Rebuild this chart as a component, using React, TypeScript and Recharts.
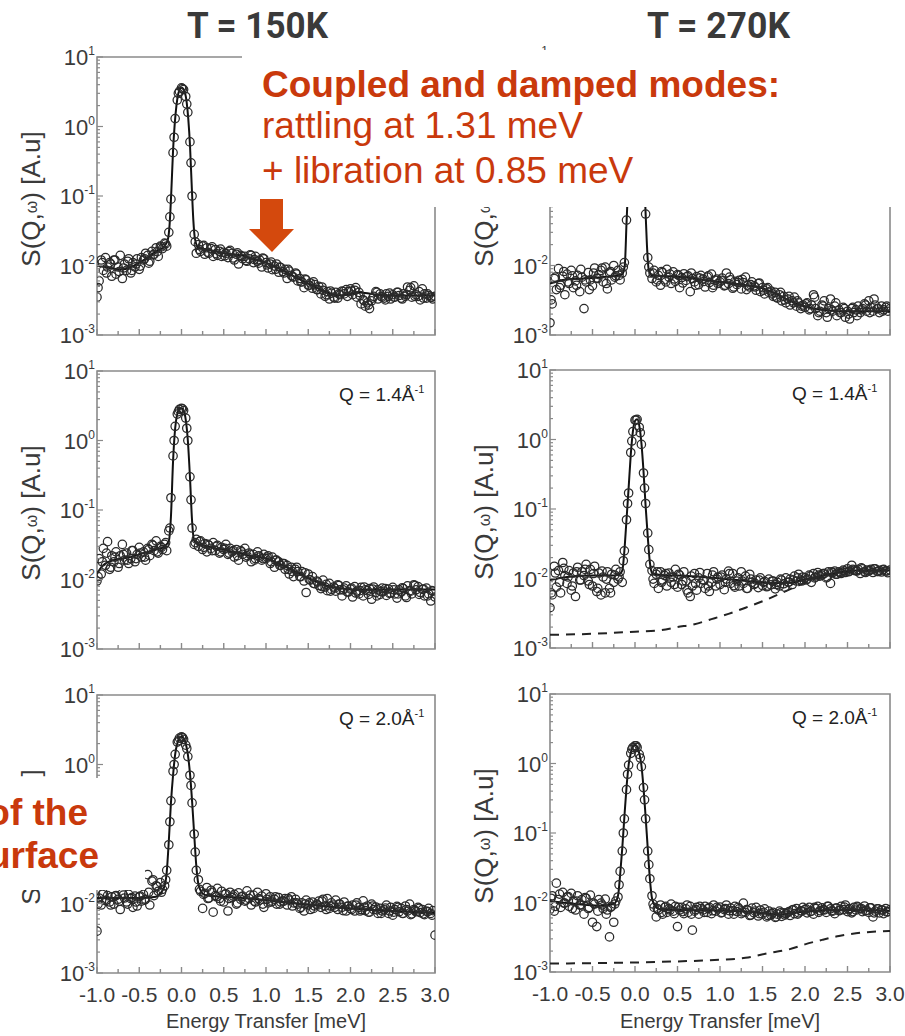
import React from "react";
import { ComposedChart, Scatter, Line, XAxis, YAxis, ReferenceArea } from "recharts";

const FONT = "'Liberation Sans', Arial, Helvetica, sans-serif";
const FRAME = "#8a8a8a";
const INK = "#3a3a3a";
const RED = "#c9390c";
const ARROW = "#d4490d";

// energy grid of the first detector group (meV)
const ENERGY = [
  -1, -0.975, -0.95, -0.925, -0.9, -0.875, -0.85, -0.825,
  -0.8, -0.775, -0.75, -0.725, -0.7, -0.675, -0.65, -0.625,
  -0.6, -0.575, -0.55, -0.525, -0.5, -0.475, -0.45, -0.425,
  -0.4, -0.375, -0.35, -0.325, -0.3, -0.275, -0.25, -0.225,
  -0.2, -0.175, -0.15, -0.125, -0.1, -0.075, -0.05, -0.025,
  0, 0.025, 0.05, 0.075, 0.1, 0.125, 0.15, 0.175,
  0.2, 0.225, 0.25, 0.275, 0.3, 0.325, 0.35, 0.375,
  0.4, 0.425, 0.45, 0.475, 0.5, 0.525, 0.55, 0.575,
  0.6, 0.625, 0.65, 0.675, 0.7, 0.725, 0.75, 0.775,
  0.8, 0.825, 0.85, 0.875, 0.9, 0.925, 0.95, 0.975,
  1, 1.025, 1.05, 1.075, 1.1, 1.125, 1.15, 1.175,
  1.2, 1.225, 1.25, 1.275, 1.3, 1.325, 1.35, 1.375,
  1.4, 1.425, 1.45, 1.475, 1.5, 1.525, 1.55, 1.575,
  1.6, 1.625, 1.65, 1.675, 1.7, 1.725, 1.75, 1.775,
  1.8, 1.825, 1.85, 1.875, 1.9, 1.925, 1.95, 1.975,
  2, 2.025, 2.05, 2.075, 2.1, 2.125, 2.15, 2.175,
  2.2, 2.225, 2.25, 2.275, 2.3, 2.325, 2.35, 2.375,
  2.4, 2.425, 2.45, 2.475, 2.5, 2.525, 2.55, 2.575,
  2.6, 2.625, 2.65, 2.675, 2.7, 2.725, 2.75, 2.775,
  2.8, 2.825, 2.85, 2.875, 2.9, 2.925, 2.95, 2.975,
  3,
];

// energy grid of the second detector group (meV)
const ENERGY_B = [
  -0.9875, -0.9375, -0.8875, -0.8375, -0.7875, -0.7375, -0.6875, -0.6375, -0.5875, -0.5375,
  -0.4875, -0.4375, -0.3875, -0.3375, -0.2875, -0.2375, -0.1875, -0.1375, -0.0875, -0.0375,
  0.0125, 0.0625, 0.1125, 0.1625, 0.2125, 0.2625, 0.3125, 0.3625, 0.4125, 0.4625,
  0.5125, 0.5625, 0.6125, 0.6625, 0.7125, 0.7625, 0.8125, 0.8625, 0.9125, 0.9625,
  1.0125, 1.0625, 1.1125, 1.1625, 1.2125, 1.2625, 1.3125, 1.3625, 1.4125, 1.4625,
  1.5125, 1.5625, 1.6125, 1.6625, 1.7125, 1.7625, 1.8125, 1.8625, 1.9125, 1.9625,
  2.0125, 2.0625, 2.1125, 2.1625, 2.2125, 2.2625, 2.3125, 2.3625, 2.4125, 2.4625,
  2.5125, 2.5625, 2.6125, 2.6625, 2.7125, 2.7625, 2.8125, 2.8625, 2.9125, 2.9625,
];

const X_TICKS = [-1, -0.75, -0.5, -0.25, 0, 0.25, 0.5, 0.75, 1, 1.25, 1.5, 1.75, 2, 2.25, 2.5, 2.75, 3];
const Y_TICKS = [
  0.001, 0.002, 0.003, 0.004, 0.005, 0.006, 0.007, 0.008, 0.009,
  0.01, 0.02, 0.03, 0.04, 0.05, 0.06, 0.07, 0.08, 0.09,
  0.1, 0.2, 0.3, 0.4, 0.5, 0.6, 0.7, 0.8, 0.9,
  1, 2, 3, 4, 5, 6, 7, 8, 9, 10,
];

// ---- T = 150K, top row ----
const S150_TOP = [
  0.0035, 0.006, 0.012, 0.0085, 0.013, 0.0095, 0.011, 0.007,
  0.012, 0.0075, 0.0095, 0.014, 0.0065, 0.0105, 0.0085, 0.0125,
  0.0078, 0.011, 0.0095, 0.0125, 0.0088, 0.013, 0.012, 0.015,
  0.014, 0.0115, 0.016, 0.0145, 0.018, 0.0135, 0.019, 0.0175,
  0.021, 0.019, 0.03, 0.09, 0.42, 1.3, 2.4, 3.2,
  3.6, 3.4, 2.7, 1.6, 0.6, 0.1, 0.028, 0.015,
  0.02, 0.016, 0.019, 0.0145, 0.018, 0.015, 0.0175, 0.0135,
  0.017, 0.014, 0.016, 0.0135, 0.0155, 0.015, 0.013, 0.0165,
  0.015, 0.012, 0.0145, 0.0105, 0.014, 0.0125, 0.0135, 0.0115,
  0.0125, 0.014, 0.011, 0.0135, 0.0115, 0.012, 0.0095, 0.0125,
  0.011, 0.0092, 0.0105, 0.0087, 0.0098, 0.0105, 0.008, 0.0093,
  0.0082, 0.0088, 0.0065, 0.0083, 0.0072, 0.0068, 0.0078, 0.006,
  0.0065, 0.0058, 0.0048, 0.0062, 0.0052, 0.0056, 0.0047, 0.0053,
  0.0045, 0.005, 0.0039, 0.0044, 0.0036, 0.0042, 0.0033, 0.004,
  0.0035, 0.0041, 0.0034, 0.0038, 0.0043, 0.0039, 0.0045, 0.0042,
  0.0046, 0.0038, 0.0044, 0.0035, 0.0041, 0.0028, 0.0032, 0.0026,
  0.0029, 0.0024, 0.0031, 0.0036, 0.0042, 0.0033, 0.0039, 0.0035,
  0.0034, 0.0039, 0.0036, 0.0033, 0.0038, 0.0035, 0.0041, 0.0037,
  0.0034, 0.0039, 0.0036, 0.0049, 0.0044, 0.0035, 0.0051, 0.0038,
  0.0036, 0.0032, 0.0046, 0.0039, 0.0034, 0.0037, 0.0035, 0.0033,
  0.0036,
];
const S150_TOP_B = [
  0.0048, 0.011, 0.0078, 0.0105, 0.012, 0.0082, 0.0092, 0.0115, 0.0085, 0.0105,
  0.0098, 0.0125, 0.0108, 0.0142, 0.0158, 0.0185, 0.0205, 0.05, 0.7, 3.0,
  3.5, 2.1, 0.3, 0.022, 0.017, 0.0195, 0.0155, 0.0185, 0.0148, 0.0172,
  0.0138, 0.0158, 0.0128, 0.0152, 0.0135, 0.0118, 0.0142, 0.0122, 0.0108, 0.0128,
  0.0102, 0.0112, 0.0088, 0.0095, 0.0078, 0.0088, 0.0069, 0.0075, 0.0058, 0.0064,
  0.0052, 0.0058, 0.0045, 0.0049, 0.0038, 0.0043, 0.0034, 0.0039, 0.0042, 0.0036,
  0.0043, 0.0048, 0.0037, 0.0031, 0.0027, 0.0034, 0.0041, 0.0036, 0.0032, 0.004,
  0.0035, 0.0041, 0.0033, 0.0038, 0.0048, 0.0036, 0.0042, 0.0034, 0.0039, 0.0035,
];
const FIT150_TOP_E = [-1, -0.9, -0.8, -0.7, -0.6, -0.5, -0.4, -0.3, -0.2, -0.16, -0.14, -0.12, -0.1, -0.08, -0.06, -0.04, -0.02, 0, 0.02, 0.04, 0.06, 0.08, 0.1, 0.12, 0.14, 0.16, 0.2, 0.3, 0.4, 0.5, 0.6, 0.7, 0.8, 0.9, 1, 1.1, 1.2, 1.3, 1.4, 1.5, 1.6, 1.7, 1.8, 1.9, 2, 2.1, 2.2, 2.3, 2.5, 2.7, 3];
const FIT150_TOP = [0.01, 0.0095, 0.009, 0.0088, 0.0095, 0.011, 0.013, 0.016, 0.019, 0.024, 0.04, 0.12, 0.45, 1.1, 2.0, 2.9, 3.4, 3.6, 3.5, 3.1, 2.3, 1.3, 0.55, 0.15, 0.045, 0.024, 0.018, 0.017, 0.016, 0.015, 0.0145, 0.014, 0.013, 0.012, 0.011, 0.0098, 0.0085, 0.0073, 0.0063, 0.0055, 0.0048, 0.0042, 0.0038, 0.0037, 0.0039, 0.0041, 0.004, 0.0038, 0.0037, 0.0037, 0.0037];

// ---- T = 270K, top row ----
const S270_TOP = [
  0.0015, 0.0028, 0.0065, 0.0045, 0.009, 0.0052, 0.007, 0.0038,
  0.0075, 0.0055, 0.0085, 0.0048, 0.006, 0.0072, 0.0042, 0.0068,
  0.0024, 0.0058, 0.0079, 0.0062, 0.0051, 0.0092, 0.0066, 0.0074,
  0.0085, 0.0058, 0.0095, 0.0046, 0.0078, 0.0062, 0.01, 0.0071,
  0.0085, 0.0062, 0.0078, 0.011, 0.045, 0.25, 0.9, 1.6,
  2.0, 2.0, 1.6, 0.9, 0.28, 0.055, 0.013, 0.0078,
  0.0065, 0.0085, 0.0058, 0.0072, 0.0052, 0.0079, 0.0062, 0.0088,
  0.0068, 0.0055, 0.0081, 0.0059, 0.0074, 0.0048, 0.0067, 0.0076,
  0.0061, 0.0071, 0.0042, 0.0065, 0.0058, 0.0069, 0.0053, 0.0072,
  0.0064, 0.0049, 0.0068, 0.0057, 0.0075, 0.0052, 0.0061, 0.0055,
  0.0058, 0.0066, 0.0051, 0.0078, 0.0055, 0.0062, 0.0047, 0.0059,
  0.0053, 0.0061, 0.0046, 0.0057, 0.0068, 0.0052, 0.0049, 0.0058,
  0.0051, 0.0044, 0.0055, 0.0042, 0.0048, 0.0039, 0.0046, 0.0041,
  0.0043, 0.0036, 0.0041, 0.0034, 0.0038, 0.0031, 0.0036, 0.0029,
  0.0033, 0.0027, 0.0031, 0.0035, 0.0026, 0.0029, 0.0024, 0.0027,
  0.0025, 0.0029, 0.0023, 0.0027, 0.0038, 0.0024, 0.0019, 0.0022,
  0.0027, 0.0031, 0.0021, 0.0024, 0.0033, 0.0022, 0.0026, 0.0019,
  0.0023, 0.0021, 0.0025, 0.0018, 0.0022, 0.0017, 0.0024, 0.0021,
  0.0023, 0.0026, 0.0021, 0.0024, 0.0028, 0.0022, 0.0031, 0.0025,
  0.0022, 0.0027, 0.0024, 0.0021, 0.0026, 0.0023, 0.0025, 0.0022,
  0.0024,
];
const S270_TOP_B = [
  0.0032, 0.0068, 0.0048, 0.0082, 0.0058, 0.0071, 0.0052, 0.0088, 0.0062, 0.0045,
  0.0078, 0.0065, 0.0092, 0.0055, 0.0082, 0.0068, 0.0072, 0.0095, 0.1, 1.2,
  2.05, 1.2, 0.14, 0.0095, 0.0078, 0.0062, 0.0082, 0.0058, 0.0075, 0.0064,
  0.0072, 0.0056, 0.0069, 0.0078, 0.0052, 0.0066, 0.0059, 0.0071, 0.0048, 0.0064,
  0.0061, 0.0052, 0.0068, 0.0049, 0.0057, 0.0063, 0.0045, 0.0053, 0.0049, 0.0056,
  0.0044, 0.0048, 0.0039, 0.0035, 0.0041, 0.0032, 0.0036, 0.0029, 0.0031, 0.0026,
  0.0028, 0.0024, 0.0035, 0.0021, 0.0026, 0.0018, 0.0023, 0.0029, 0.0021, 0.0024,
  0.002, 0.0025, 0.0019, 0.0023, 0.0027, 0.0021, 0.0033, 0.0024, 0.0022, 0.0026,
];
const FIT270_TOP_E = [-1, -0.9, -0.8, -0.6, -0.4, -0.2, -0.15, -0.12, -0.1, -0.08, -0.05, -0.02, 0, 0.02, 0.05, 0.08, 0.1, 0.12, 0.14, 0.16, 0.2, 0.4, 0.6, 0.8, 1, 1.2, 1.4, 1.5, 1.6, 1.7, 1.8, 1.9, 2, 2.1, 2.2, 2.4, 2.6, 3];
const FIT270_TOP = [0.0055, 0.006, 0.0063, 0.0065, 0.0068, 0.0072, 0.0075, 0.01, 0.04, 0.15, 0.8, 1.7, 2.0, 2.1, 1.7, 0.8, 0.3, 0.08, 0.02, 0.009, 0.0072, 0.007, 0.0067, 0.0062, 0.0058, 0.0054, 0.005, 0.0047, 0.0042, 0.0037, 0.0032, 0.0028, 0.0026, 0.0024, 0.0023, 0.0022, 0.0022, 0.0022];

// ---- T = 150K, Q = 1.4 ----
const S150_Q14 = [
  0.0095, 0.02, 0.012, 0.028, 0.016, 0.035, 0.014, 0.022,
  0.018, 0.025, 0.015, 0.022, 0.032, 0.019, 0.024, 0.017,
  0.02, 0.026, 0.018, 0.023, 0.029, 0.021, 0.025, 0.019,
  0.028, 0.022, 0.032, 0.026, 0.036, 0.024, 0.03, 0.027,
  0.032, 0.026, 0.05, 0.15, 0.6, 1.6, 2.4, 2.8,
  2.9, 2.7, 2.1, 1.0, 0.3, 0.055, 0.032, 0.038,
  0.03, 0.036, 0.027, 0.033, 0.025, 0.031, 0.028, 0.034,
  0.026, 0.031, 0.024, 0.029, 0.027, 0.032, 0.023, 0.028,
  0.025, 0.021, 0.027, 0.019, 0.026, 0.023, 0.028, 0.022,
  0.024, 0.018, 0.023, 0.02, 0.025, 0.021, 0.019, 0.023,
  0.02, 0.022, 0.017, 0.021, 0.015, 0.019, 0.018, 0.016,
  0.017, 0.014, 0.016, 0.012, 0.015, 0.011, 0.014, 0.013,
  0.011, 0.013, 0.0095, 0.0065, 0.012, 0.0098, 0.011, 0.0087,
  0.0095, 0.0082, 0.0074, 0.0098, 0.0078, 0.0069, 0.0088, 0.0072,
  0.0078, 0.0068, 0.0084, 0.0071, 0.0058, 0.0075, 0.0081, 0.0066,
  0.0073, 0.0056, 0.0079, 0.0068, 0.0062, 0.0077, 0.0058, 0.0071,
  0.0069, 0.0074, 0.0052, 0.0078, 0.0065, 0.0071, 0.0061, 0.0075,
  0.0068, 0.0059, 0.0073, 0.0064, 0.0077, 0.0062, 0.0054, 0.0071,
  0.0066, 0.0074, 0.0058, 0.0081, 0.0069, 0.0062, 0.0084, 0.0071,
  0.0079, 0.0065, 0.0072, 0.0058, 0.0075, 0.0062, 0.0049, 0.0068,
  0.0056,
];
const S150_Q14_B = [
  0.011, 0.018, 0.024, 0.015, 0.021, 0.017, 0.023, 0.019, 0.026, 0.02,
  0.024, 0.021, 0.027, 0.031, 0.025, 0.029, 0.034, 0.055, 1.0, 2.6,
  2.85, 1.5, 0.14, 0.034, 0.035, 0.029, 0.032, 0.026, 0.03, 0.025,
  0.028, 0.024, 0.026, 0.022, 0.025, 0.021, 0.023, 0.019, 0.022, 0.02,
  0.021, 0.018, 0.019, 0.016, 0.017, 0.014, 0.013, 0.015, 0.011, 0.0125,
  0.01, 0.0088, 0.0092, 0.0079, 0.0085, 0.0068, 0.0075, 0.0082, 0.0071, 0.0066,
  0.0075, 0.0064, 0.0069, 0.0078, 0.0061, 0.0073, 0.0058, 0.0067, 0.0074, 0.0063,
  0.0071, 0.0062, 0.0076, 0.0055, 0.0068, 0.0082, 0.0061, 0.0073, 0.0058, 0.0069,
];
const FIT150_Q14_E = [-1, -0.95, -0.9, -0.8, -0.7, -0.6, -0.5, -0.4, -0.3, -0.2, -0.15, -0.125, -0.1, -0.075, -0.05, -0.025, 0, 0.025, 0.05, 0.075, 0.1, 0.125, 0.15, 0.2, 0.3, 0.4, 0.5, 0.6, 0.7, 0.8, 0.9, 1, 1.1, 1.2, 1.3, 1.4, 1.5, 1.6, 1.7, 1.8, 1.9, 2, 2.5, 3];
const FIT150_Q14 = [0.012, 0.015, 0.017, 0.019, 0.02, 0.021, 0.023, 0.025, 0.027, 0.03, 0.036, 0.08, 0.5, 1.5, 2.4, 2.8, 2.9, 2.7, 2.0, 1.0, 0.3, 0.07, 0.036, 0.032, 0.03, 0.028, 0.027, 0.025, 0.024, 0.022, 0.021, 0.02, 0.018, 0.016, 0.014, 0.012, 0.0105, 0.0093, 0.0083, 0.0077, 0.0074, 0.0072, 0.0072, 0.0072];

// ---- T = 270K, Q = 1.4 ----
const S270_Q14 = [
  0.0038, 0.0058, 0.015, 0.0075, 0.013, 0.0062, 0.017, 0.011,
  0.0085, 0.013, 0.0068, 0.012, 0.0055, 0.0145, 0.0095, 0.0125,
  0.011, 0.016, 0.0092, 0.0135, 0.0078, 0.015, 0.0065, 0.012,
  0.0058, 0.0105, 0.0062, 0.0125, 0.0072, 0.0115, 0.0088, 0.0135,
  0.0098, 0.0125, 0.0088, 0.025, 0.07, 0.17, 0.65, 1.3,
  1.9, 1.95, 1.5, 0.85, 0.33, 0.12, 0.045, 0.016,
  0.013, 0.0085, 0.0115, 0.0072, 0.0125, 0.0095, 0.011, 0.0078,
  0.012, 0.0088, 0.0105, 0.0135, 0.0075, 0.0112, 0.0082, 0.0125,
  0.0092, 0.0062, 0.0055, 0.0078, 0.0118, 0.0068, 0.0102, 0.0085,
  0.0095, 0.0072, 0.0118, 0.0065, 0.0088, 0.0125, 0.0078, 0.0105,
  0.0082, 0.0112, 0.0069, 0.0098, 0.0128, 0.0085, 0.0118, 0.0075,
  0.0092, 0.0078, 0.0125, 0.0085, 0.0108, 0.0072, 0.0115, 0.0088,
  0.0082, 0.0095, 0.0074, 0.0102, 0.0079, 0.0091, 0.0076, 0.0098,
  0.0081, 0.0092, 0.0071, 0.0088, 0.0078, 0.0095, 0.0084, 0.0102,
  0.0088, 0.0098, 0.0082, 0.0108, 0.0092, 0.0115, 0.0095, 0.0105,
  0.0102, 0.0098, 0.0112, 0.0088, 0.0118, 0.0105, 0.0122, 0.0108,
  0.0112, 0.0118, 0.0102, 0.0125, 0.0085, 0.0121, 0.0128, 0.0115,
  0.0125, 0.0118, 0.0132, 0.0122, 0.0138, 0.0128, 0.0155, 0.0131,
  0.0129, 0.0135, 0.0118, 0.0138, 0.0125, 0.0132, 0.0128, 0.0136,
  0.0122, 0.0138, 0.0126, 0.0131, 0.0124, 0.0135, 0.0128, 0.0121,
  0.0132,
];
const S270_Q14_B = [
  0.0062, 0.012, 0.0088, 0.014, 0.0105, 0.0078, 0.0125, 0.0095, 0.0135, 0.0082,
  0.0118, 0.0072, 0.0128, 0.0098, 0.0062, 0.0112, 0.0105, 0.018, 0.12, 0.95,
  1.9, 1.25, 0.2, 0.026, 0.0098, 0.0125, 0.0088, 0.0118, 0.0105, 0.0082,
  0.0115, 0.0092, 0.0068, 0.0108, 0.0085, 0.0122, 0.0095, 0.0078, 0.0112, 0.0098,
  0.0105, 0.0088, 0.0118, 0.0079, 0.0102, 0.0092, 0.0072, 0.0098, 0.0085, 0.0095,
  0.0088, 0.0078, 0.0092, 0.0082, 0.0098, 0.0075, 0.0089, 0.0095, 0.0102, 0.0092,
  0.0095, 0.0108, 0.0102, 0.0112, 0.0118, 0.0105, 0.0125, 0.0115, 0.0121, 0.0128,
  0.0125, 0.0135, 0.0128, 0.0142, 0.0122, 0.0131, 0.0138, 0.0126, 0.0133, 0.0129,
];
const FIT270_Q14_E = [-1, -0.8, -0.5, -0.3, -0.2, -0.15, -0.125, -0.1, -0.075, -0.05, -0.025, 0, 0.025, 0.05, 0.075, 0.1, 0.125, 0.15, 0.175, 0.2, 0.3, 0.5, 0.8, 1, 1.2, 1.4, 1.6, 1.8, 1.9, 2, 2.2, 2.4, 2.6, 2.8, 3];
const FIT270_Q14 = [0.0095, 0.0105, 0.011, 0.011, 0.0112, 0.013, 0.025, 0.07, 0.2, 0.6, 1.3, 1.85, 1.95, 1.6, 0.9, 0.35, 0.11, 0.04, 0.017, 0.012, 0.0112, 0.011, 0.0105, 0.01, 0.0095, 0.009, 0.0086, 0.0087, 0.009, 0.0097, 0.011, 0.0122, 0.013, 0.013, 0.013];
const MODE270_Q14_E = [-1, -0.5, 0, 0.3, 0.5, 0.7, 0.9, 1.1, 1.3, 1.5, 1.7, 1.9, 2.1, 2.3, 2.6, 3];
const MODE270_Q14 = [0.00155, 0.0016, 0.00172, 0.0018, 0.002, 0.0022, 0.0026, 0.0031, 0.0038, 0.0047, 0.006, 0.0077, 0.0097, 0.0112, 0.0125, 0.0131];

// ---- T = 150K, Q = 2.0 ----
const S150_Q20 = [
  0.004, 0.012, 0.0095, 0.014, 0.011, 0.013, 0.0105, 0.0125,
  0.0098, 0.013, 0.0115, 0.0082, 0.014, 0.012, 0.0105, 0.0135,
  0.0118, 0.0088, 0.0128, 0.0092, 0.0125, 0.0108, 0.0135, 0.0115,
  0.026, 0.0095, 0.021, 0.013, 0.018, 0.015, 0.02, 0.016,
  0.018, 0.03, 0.07, 0.3, 0.8, 1.4, 2.1, 2.4,
  2.5, 2.3, 1.9, 1.3, 0.7, 0.28, 0.1, 0.03,
  0.022, 0.015, 0.0085, 0.014, 0.017, 0.012, 0.0155, 0.0075,
  0.013, 0.0165, 0.0118, 0.015, 0.0105, 0.0138, 0.0078, 0.0145,
  0.0122, 0.0135, 0.0098, 0.0142, 0.0115, 0.0128, 0.0108, 0.0152,
  0.0118, 0.0095, 0.0132, 0.0105, 0.0145, 0.0112, 0.0128, 0.0088,
  0.0138, 0.0102, 0.0125, 0.0108, 0.0115, 0.0098, 0.0122, 0.0105,
  0.0108, 0.0118, 0.0095, 0.0112, 0.0125, 0.0102, 0.0115, 0.0098,
  0.0085, 0.0102, 0.0078, 0.0112, 0.0095, 0.0082, 0.0105, 0.0092,
  0.0098, 0.0108, 0.0088, 0.0115, 0.0092, 0.0118, 0.0085, 0.0102,
  0.0095, 0.0112, 0.0082, 0.0098, 0.0088, 0.0105, 0.0078, 0.0092,
  0.0085, 0.0095, 0.0078, 0.0102, 0.0088, 0.0082, 0.0109, 0.0079,
  0.0092, 0.0075, 0.0098, 0.0082, 0.0089, 0.0072, 0.0085, 0.0078,
  0.0081, 0.0095, 0.0072, 0.0088, 0.0068, 0.0082, 0.0091, 0.0076,
  0.0085, 0.0072, 0.0092, 0.0078, 0.0098, 0.0071, 0.0082, 0.0076,
  0.0088, 0.0074, 0.0082, 0.0069, 0.0078, 0.0085, 0.0072, 0.0079,
  0.0035,
];
const S150_Q20_B = [
  0.0098, 0.0135, 0.0112, 0.0095, 0.0128, 0.0108, 0.0132, 0.0098, 0.0122, 0.0105,
  0.0128, 0.0112, 0.0145, 0.022, 0.0175, 0.0145, 0.022, 0.15, 1.0, 2.2,
  2.45, 1.7, 0.5, 0.055, 0.016, 0.0135, 0.0118, 0.0145, 0.0125, 0.0108,
  0.0135, 0.0118, 0.0128, 0.0102, 0.0125, 0.0112, 0.0132, 0.0108, 0.0118, 0.0098,
  0.0115, 0.0105, 0.0125, 0.0098, 0.0108, 0.0118, 0.0092, 0.0102, 0.0088, 0.0098,
  0.0102, 0.0085, 0.0095, 0.0108, 0.0082, 0.0092, 0.0088, 0.0098, 0.0079, 0.0091,
  0.0082, 0.0095, 0.0078, 0.0088, 0.0075, 0.0092, 0.0081, 0.0072, 0.0086, 0.0078,
  0.0075, 0.0088, 0.0072, 0.0082, 0.0069, 0.0079, 0.0085, 0.0071, 0.0076, 0.0068,
];
const FIT150_Q20_E = [-1, -0.5, -0.3, -0.25, -0.2, -0.175, -0.15, -0.125, -0.1, -0.075, -0.05, -0.025, 0, 0.025, 0.05, 0.075, 0.1, 0.125, 0.15, 0.175, 0.2, 0.25, 0.3, 0.5, 0.8, 1, 1.2, 1.5, 1.8, 2, 2.3, 2.6, 3];
const FIT150_Q20 = [0.012, 0.012, 0.0125, 0.014, 0.018, 0.028, 0.08, 0.28, 0.7, 1.4, 2.0, 2.4, 2.5, 2.4, 2.0, 1.4, 0.75, 0.3, 0.1, 0.035, 0.019, 0.014, 0.013, 0.0125, 0.0118, 0.0112, 0.0105, 0.0096, 0.0089, 0.0085, 0.008, 0.0077, 0.0073];

// ---- T = 270K, Q = 2.0 ----
const S270_Q20 = [
  0.008, 0.0125, 0.0075, 0.019, 0.011, 0.0085, 0.014, 0.0098,
  0.012, 0.0088, 0.0135, 0.0105, 0.0078, 0.0125, 0.0092, 0.011,
  0.0068, 0.0115, 0.0082, 0.0128, 0.0052, 0.0095, 0.0045, 0.011,
  0.0098, 0.0082, 0.0112, 0.0078, 0.0032, 0.0088, 0.0052, 0.0105,
  0.012, 0.028, 0.055, 0.16, 0.42, 0.95, 1.4, 1.7,
  1.8, 1.7, 1.35, 0.9, 0.45, 0.16, 0.055, 0.022,
  0.0125, 0.0085, 0.0062, 0.0078, 0.0092, 0.0068, 0.0085, 0.0072,
  0.0082, 0.0095, 0.0075, 0.0088, 0.0045, 0.0078, 0.0085, 0.0069,
  0.0081, 0.0072, 0.0088, 0.004, 0.0075, 0.0085, 0.0068, 0.0082,
  0.0078, 0.0088, 0.0072, 0.0085, 0.0069, 0.0092, 0.0075, 0.0081,
  0.0086, 0.0072, 0.0079, 0.0092, 0.0068, 0.0083, 0.0076, 0.0088,
  0.0074, 0.0081, 0.0069, 0.0098, 0.0072, 0.0078, 0.0065, 0.0083,
  0.0071, 0.0085, 0.0064, 0.0078, 0.0068, 0.0081, 0.0062, 0.0075,
  0.0066, 0.0072, 0.0061, 0.0068, 0.0075, 0.0063, 0.0071, 0.0069,
  0.0072, 0.0065, 0.0078, 0.0069, 0.0082, 0.0071, 0.0076, 0.0085,
  0.0079, 0.0071, 0.0085, 0.0075, 0.0068, 0.0082, 0.0088, 0.0076,
  0.0084, 0.0078, 0.0072, 0.0088, 0.0081, 0.0075, 0.0069, 0.0083,
  0.0076, 0.0088, 0.0079, 0.0092, 0.0074, 0.0082, 0.0071, 0.0085,
  0.0078, 0.0086, 0.0081, 0.0074, 0.0089, 0.0077, 0.0072, 0.0084,
  0.0062, 0.0075, 0.0081, 0.0071, 0.0078, 0.0069, 0.0082, 0.0074,
  0.0079,
];
const S270_Q20_B = [
  0.0115, 0.0088, 0.0132, 0.0098, 0.0122, 0.0082, 0.0105, 0.0092, 0.0118, 0.0085,
  0.0098, 0.0075, 0.0092, 0.0068, 0.0085, 0.0095, 0.018, 0.1, 0.7, 1.6,
  1.8, 1.2, 0.3, 0.035, 0.0095, 0.0082, 0.0072, 0.0088, 0.0078, 0.0069,
  0.0085, 0.0074, 0.0092, 0.0068, 0.0079, 0.0088, 0.0072, 0.0082, 0.0076, 0.0085,
  0.0071, 0.0082, 0.0076, 0.0068, 0.0085, 0.0073, 0.0079, 0.0066, 0.0075, 0.0069,
  0.0072, 0.0065, 0.0069, 0.0062, 0.0071, 0.0066, 0.0074, 0.0079, 0.0068, 0.0075,
  0.0081, 0.0074, 0.0085, 0.0072, 0.0079, 0.0088, 0.0076, 0.0083, 0.0078, 0.0086,
  0.0079, 0.0074, 0.0088, 0.0082, 0.0076, 0.0084, 0.0071, 0.0081, 0.0078, 0.0073,
];
const FIT270_Q20_E = [-1, -0.8, -0.6, -0.4, -0.25, -0.2, -0.175, -0.15, -0.125, -0.1, -0.075, -0.05, -0.025, 0, 0.025, 0.05, 0.075, 0.1, 0.125, 0.15, 0.175, 0.2, 0.25, 0.3, 0.5, 1, 1.3, 1.5, 1.7, 1.8, 2, 2.2, 2.5, 3];
const FIT270_Q20 = [0.0105, 0.0098, 0.0093, 0.009, 0.0095, 0.0125, 0.025, 0.06, 0.17, 0.45, 0.95, 1.4, 1.75, 1.85, 1.75, 1.4, 0.95, 0.45, 0.17, 0.06, 0.022, 0.0115, 0.0085, 0.008, 0.0078, 0.0077, 0.0074, 0.007, 0.0067, 0.0069, 0.0074, 0.0077, 0.0078, 0.0076];
const MODE270_Q20_E = [-1, -0.5, 0, 0.5, 1, 1.3, 1.6, 1.8, 2, 2.2, 2.4, 2.6, 2.8, 3];
const MODE270_Q20 = [0.00132, 0.00134, 0.00137, 0.00142, 0.0015, 0.0016, 0.0019, 0.0021, 0.0025, 0.0029, 0.0033, 0.0036, 0.0038, 0.0039];

const YW = 90;
const MT = 20;
const MR = 20;
const XH = 60;
const PH = 278;

interface PanelSpec {
  left: number;
  top: number;
  w: number;
  scatter: number[];
  scatterB: number[];
  fitE: number[];
  fit: number[];
  modeE?: number[];
  mode?: number[];
  q?: string;
  xLabels: boolean;
}

const PANELS: PanelSpec[] = [
  { left: 97, top: 57, w: 338, scatter: S150_TOP, scatterB: S150_TOP_B, fitE: FIT150_TOP_E, fit: FIT150_TOP, xLabels: false },
  { left: 550, top: 57, w: 340, scatter: S270_TOP, scatterB: S270_TOP_B, fitE: FIT270_TOP_E, fit: FIT270_TOP, xLabels: false },
  { left: 97, top: 371, w: 338, scatter: S150_Q14, scatterB: S150_Q14_B, fitE: FIT150_Q14_E, fit: FIT150_Q14, q: "1.4", xLabels: false },
  { left: 550, top: 370, w: 340, scatter: S270_Q14, scatterB: S270_Q14_B, fitE: FIT270_Q14_E, fit: FIT270_Q14, modeE: MODE270_Q14_E, mode: MODE270_Q14, q: "1.4", xLabels: false },
  { left: 97, top: 695, w: 338, scatter: S150_Q20, scatterB: S150_Q20_B, fitE: FIT150_Q20_E, fit: FIT150_Q20, q: "2.0", xLabels: true },
  { left: 550, top: 694, w: 340, scatter: S270_Q20, scatterB: S270_Q20_B, fitE: FIT270_Q20_E, fit: FIT270_Q20, modeE: MODE270_Q20_E, mode: MODE270_Q20, q: "2.0", xLabels: true },
];

const pairs = (xs: number[], ys: number[]) => xs.map((e, i) => ({ e, s: ys[i] }));

function YTick(props: any) {
  const { x, y, payload } = props;
  const lg = Math.log10(payload.value);
  const exp = Math.round(lg);
  const major = Math.abs(lg - exp) < 1e-6;
  return (
    <g>
      <line x1={x} x2={x + (major ? 6 : 3)} y1={y} y2={y} stroke={FRAME} strokeWidth={1.2} />
      {major ? (
        <text x={x - 2} y={y + 8} textAnchor="end" fontSize={22} fill={INK} fontFamily={FONT}>
          10
          <tspan dy={-10} fontSize={12}>{exp}</tspan>
        </text>
      ) : null}
    </g>
  );
}

function makeXTick(showLabels: boolean) {
  return function XTick(props: any) {
    const { x, y, payload } = props;
    const v: number = payload.value;
    const major = Math.abs(v * 2 - Math.round(v * 2)) < 1e-6;
    return (
      <g>
        <line x1={x} x2={x} y1={y} y2={y - (major ? 6 : 4)} stroke={FRAME} strokeWidth={1.4} />
        {showLabels && major ? (
          <text x={x} y={y + 29} textAnchor="middle" fontSize={21} fill={INK} fontFamily={FONT}>
            {v.toFixed(1)}
          </text>
        ) : null}
      </g>
    );
  };
}

const circle = (p: any) => (
  <circle cx={p.cx} cy={p.cy} r={4.2} fill="none" stroke="#2a2a2a" strokeWidth={1.25} />
);

function Panel({ spec }: { spec: PanelSpec }) {
  const pts = pairs(ENERGY, spec.scatter);
  const ptsB = pairs(ENERGY_B, spec.scatterB);
  const fit = pairs(spec.fitE, spec.fit);
  const mode = spec.modeE && spec.mode ? pairs(spec.modeE, spec.mode) : null;
  return (
    <div style={{ position: "absolute", left: spec.left - YW, top: spec.top - MT }}>
      <ComposedChart
        width={YW + spec.w + MR}
        height={MT + PH + XH}
        margin={{ top: MT, right: MR, bottom: 0, left: 0 }}
      >
        <XAxis
          type="number"
          dataKey="e"
          domain={[-1, 3]}
          ticks={X_TICKS}
          interval={0}
          allowDataOverflow
          axisLine={false}
          tickLine={false}
          tickSize={0}
          tickMargin={0}
          height={XH}
          tick={makeXTick(spec.xLabels)}
        />
        <YAxis
          type="number"
          dataKey="s"
          scale="log"
          domain={[0.001, 10]}
          ticks={Y_TICKS}
          interval={0}
          allowDataOverflow
          axisLine={false}
          tickLine={false}
          tickSize={0}
          tickMargin={0}
          width={YW}
          tick={YTick}
        />
        <ReferenceArea
          x1={-1}
          x2={3}
          y1={0.001}
          y2={10}
          fill="none"
          stroke={FRAME}
          strokeWidth={1.6}
          ifOverflow="visible"
        />
        <Scatter data={pts} dataKey="s" shape={circle} isAnimationActive={false} />
        <Scatter data={ptsB} dataKey="s" shape={circle} isAnimationActive={false} />
        {mode ? (
          <Line
            data={mode}
            dataKey="s"
            type="monotone"
            stroke="#222"
            strokeWidth={2}
            strokeDasharray="9 7"
            dot={false}
            isAnimationActive={false}
          />
        ) : null}
        <Line
          data={fit}
          dataKey="s"
          type="monotone"
          stroke="#111"
          strokeWidth={2}
          dot={false}
          isAnimationActive={false}
        />
      </ComposedChart>
    </div>
  );
}

function YLabel({ x, y }: { x: number; y: number }) {
  return (
    <text
      x={x}
      y={y}
      transform={`rotate(-90 ${x} ${y})`}
      textAnchor="middle"
      dominantBaseline="central"
      fontSize={26}
      fill={INK}
      fontFamily={FONT}
    >
      S(Q,<tspan fontSize={16}>ω</tspan>) [A.u]
    </text>
  );
}

export default function App() {
  return (
    <div
      style={{
        position: "absolute",
        left: 0,
        top: 0,
        width: 905,
        height: 1036,
        background: "#fff",
        overflow: "hidden",
        fontFamily: FONT,
      }}
    >
      {/* labels under the charts */}
      <svg width={905} height={1036} style={{ position: "absolute", left: 0, top: 0 }}>
        <text x={187} y={38} fontSize={36} fontWeight={700} fill={INK} fontFamily="Roboto, sans-serif" textLength={141} lengthAdjust="spacingAndGlyphs">
          T = 150K
        </text>
        <text x={647} y={38} fontSize={36} fontWeight={700} fill={INK} fontFamily="Roboto, sans-serif" textLength={143} lengthAdjust="spacingAndGlyphs">
          T = 270K
        </text>
        {PANELS.map((p, i) => (
          <YLabel key={`yl${i}`} x={p.left - 66} y={p.top + PH / 2 + 3} />
        ))}
        {PANELS.filter((p) => p.q).map((p, i) => (
          <text key={`q${i}`} x={p.left + 242} y={p.top + 30} fontSize={19} fill="#222" fontFamily={FONT}>
            Q = {p.q}Å
            <tspan dy={-8} fontSize={11}>-1</tspan>
          </text>
        ))}
        {PANELS.filter((p) => p.xLabels).map((p, i) => (
          <text key={`xl${i}`} x={p.left + p.w / 2} y={1028} textAnchor="middle" fontSize={20} fill={INK} fontFamily={FONT}>
            Energy Transfer [meV]
          </text>
        ))}
      </svg>

      {PANELS.map((p, i) => (
        <Panel key={i} spec={p} />
      ))}

      {/* slide annotations on top */}
      <svg width={905} height={1036} style={{ position: "absolute", left: 0, top: 0, pointerEvents: "none" }}>
        <rect x={242} y={50} width={663} height={157} fill="#fff" />
        <text x={262} y={97} fontSize={37} fontWeight={700} fill={RED} fontFamily={FONT}>
          Coupled and damped modes:
        </text>
        <text x={262} y={138} fontSize={37} fill={RED} fontFamily={FONT}>
          rattling at 1.31 meV
        </text>
        <text x={262} y={183} fontSize={37} fill={RED} fontFamily={FONT}>
          + libration at 0.85 meV
        </text>
        <polygon points="260,199 283,199 283,229 294,229 272,252 249,229 260,229" fill={ARROW} />
        <rect x={0} y={778} width={145} height={112} fill="#fff" />
        <text x={88} y={825} textAnchor="end" fontSize={37} fontWeight={700} fill={RED} fontFamily={FONT}>
          of the
        </text>
        <text x={99} y={868} textAnchor="end" fontSize={37} fontWeight={700} fill={RED} fontFamily={FONT}>
          urface
        </text>
      </svg>
    </div>
  );
}
